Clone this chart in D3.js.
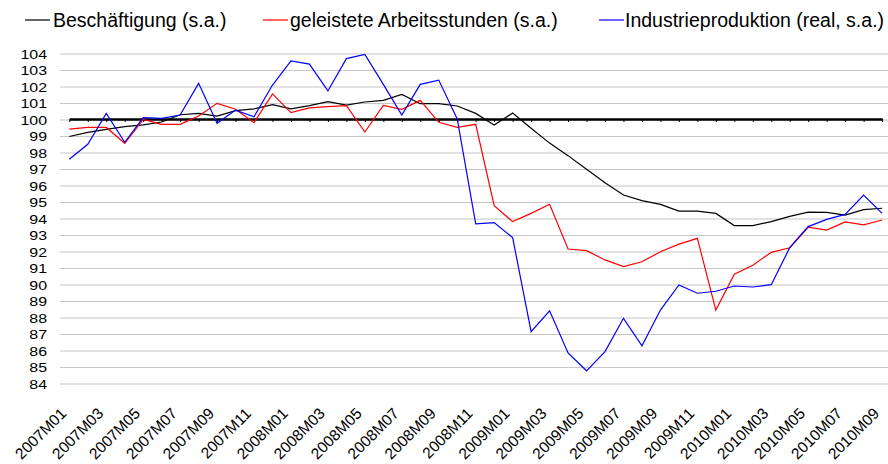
<!DOCTYPE html>
<html>
<head>
<meta charset="utf-8">
<script src="https://cdn.jsdelivr.net/npm/d3@7"></script>
<style>
  body { margin: 0; background: #fff; }
  svg { display: block; font-family: "Liberation Sans", Arial, sans-serif; }
</style>
</head>
<body>
<svg id="chart" width="888" height="464"></svg>
<script>
// months 2007M01 .. 2010M09
const months = [
  "2007M01","2007M02","2007M03","2007M04","2007M05","2007M06","2007M07","2007M08","2007M09","2007M10","2007M11","2007M12",
  "2008M01","2008M02","2008M03","2008M04","2008M05","2008M06","2008M07","2008M08","2008M09","2008M10","2008M11","2008M12",
  "2009M01","2009M02","2009M03","2009M04","2009M05","2009M06","2009M07","2009M08","2009M09","2009M10","2009M11","2009M12",
  "2010M01","2010M02","2010M03","2010M04","2010M05","2010M06","2010M07","2010M08","2010M09"
];

const beschaeftigung = [
  99.0, 99.25, 99.43, 99.6, 99.7, 99.88, 100.32, 100.4, 100.24, 100.57, 100.67, 100.93,
  100.68, 100.87, 101.11, 100.9, 101.09, 101.19, 101.55, 100.99, 100.99, 100.85, 100.4, 99.7,
  100.42, 99.5, 98.6, 97.84, 97.02, 96.2, 95.45, 95.11, 94.89, 94.48, 94.48, 94.34,
  93.6, 93.6, 93.84, 94.16, 94.42, 94.4, 94.24, 94.57, 94.65
];

const arbeitsstunden = [
  99.45, 99.55, 99.55, 98.59, 100.04, 99.74, 99.74, 100.24, 101.01, 100.65, 99.84, 101.58,
  100.45, 100.73, 100.81, 100.87, 99.27, 100.89, 100.65, 101.19, 99.86, 99.55, 99.74, 94.81,
  93.84, 94.34, 94.89, 92.18, 92.08, 91.52, 91.11, 91.41, 92.02, 92.48, 92.83, 88.48,
  90.65, 91.2, 91.98, 92.26, 93.5, 93.33, 93.82, 93.64, 93.94
];

const industrie = [
  97.62, 98.53, 100.4, 98.65, 100.14, 100.1, 100.3, 102.22, 99.8, 100.6, 100.2, 102.12,
  103.58, 103.39, 101.76, 103.72, 103.98, 102.16, 100.3, 102.16, 102.42, 100.06, 93.7, 93.78,
  92.87, 87.17, 88.44, 85.88, 84.8, 85.96, 87.98, 86.32, 88.48, 90.0, 89.5, 89.62,
  89.94, 89.88, 90.02, 92.26, 93.54, 93.98, 94.28, 95.45, 94.34
];

const yTicks = d3.range(84, 105, 1);
const xLabels = months.filter((m, i) => i % 2 === 0);

const series = [
  { name: "Beschäftigung (s.a.)", values: beschaeftigung, color: "#000000", lx: 25, tx: 53 },
  { name: "geleistete Arbeitsstunden (s.a.)", values: arbeitsstunden, color: "#ff0000", lx: 263, tx: 290 },
  { name: "Industrieproduktion (real, s.a.)", values: industrie, color: "#0000ff", lx: 599, tx: 625 }
];

const svg = d3.select("#chart");

const x = d3.scalePoint().domain(months).range([69.3, 882.1]);
const y = d3.scaleLinear().domain([84, 104]).range([384, 54]);

// grid
svg.append("g")
  .selectAll("line")
  .data(yTicks)
  .join("line")
  .attr("x1", 60)
  .attr("x2", 888)
  .attr("y1", d => y(d))
  .attr("y2", d => y(d))
  .attr("stroke", "#c6c6c6")
  .attr("stroke-width", 1.2);

// y labels (slightly wide glyphs like the original)
svg.append("g")
  .selectAll("text")
  .data(yTicks)
  .join("text")
  .attr("transform", d => `translate(47,${y(d)}) scale(1.18,1)`)
  .attr("dy", "0.36em")
  .attr("text-anchor", "end")
  .attr("font-size", 13.5)
  .attr("fill", "#000")
  .text(d => d);

// axis at 100
const xAxis = d3.axisBottom(x).tickSizeInner(3).tickSizeOuter(0).tickFormat("");
const ax = svg.append("g")
  .attr("transform", `translate(0,${y(100) - 1})`)
  .call(xAxis);
ax.select(".domain").attr("stroke", "#000").attr("stroke-width", 2.6);
ax.selectAll(".tick line").attr("stroke", "#000").attr("stroke-width", 1);

// x labels, rotated
svg.append("g")
  .selectAll("text")
  .data(xLabels)
  .join("text")
  .attr("transform", d => `translate(${x(d) - 2},414.5) rotate(-45)`)
  .attr("text-anchor", "end")
  .attr("font-size", 15.5)
  .attr("fill", "#000")
  .text(d => d);

// lines
const line = d3.line()
  .x((d, i) => x(months[i]))
  .y(d => y(d));

svg.append("g")
  .selectAll("path")
  .data(series)
  .join("path")
  .attr("d", d => line(d.values))
  .attr("fill", "none")
  .attr("stroke", d => d.color)
  .attr("stroke-width", 1.2)
  .attr("stroke-linejoin", "miter");

// legend
const lg = svg.append("g");
lg.selectAll("line")
  .data(series)
  .join("line")
  .attr("x1", d => d.lx)
  .attr("x2", d => d.lx + 25)
  .attr("y1", 20)
  .attr("y2", 20)
  .attr("stroke", d => d.color)
  .attr("stroke-width", 1.2);
lg.selectAll("text")
  .data(series)
  .join("text")
  .attr("x", d => d.tx)
  .attr("y", 20)
  .attr("dy", "0.35em")
  .attr("font-size", 19.5)
  .attr("fill", "#000")
  .text(d => d.name);
</script>
</body>
</html>
